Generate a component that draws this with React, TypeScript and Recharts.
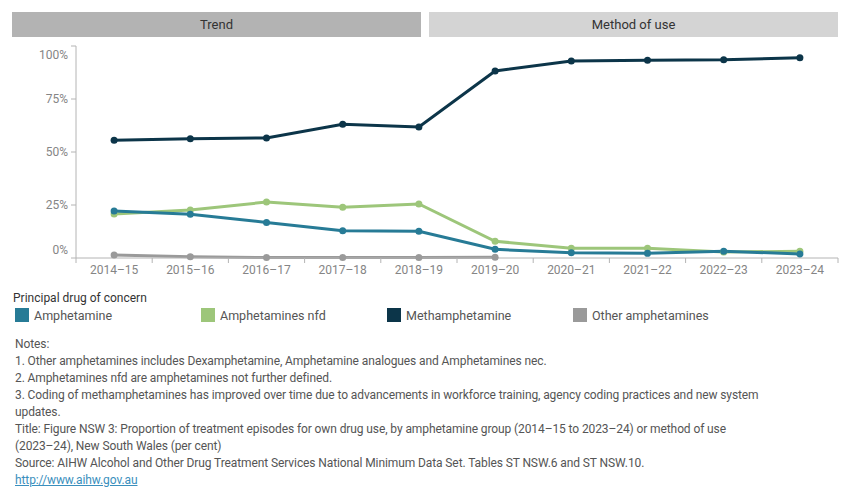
import React from 'react'
import { LineChart, Line, XAxis, YAxis } from 'recharts'

const categories = ['2014–15', '2015–16', '2016–17', '2017–18', '2018–19', '2019–20', '2020–21', '2021–22', '2022–23', '2023–24']

const amphetamine = [22.2, 20.6, 16.8, 12.9, 12.6, 4.1, 2.5, 2.2, 3.2, 1.9]
const amphetaminesNfd = [20.8, 22.6, 26.4, 23.9, 25.5, 7.9, 4.6, 4.6, 2.8, 3.2]
const methamphetamine = [55.5, 56.3, 56.6, 63.1, 61.8, 88.2, 92.9, 93.3, 93.5, 94.5]
const otherAmphetamines = [1.4, 0.6, 0.2, 0.2, 0.2, 0.3, null, null, null, null]

const yTicks = [0, 25, 50, 75, 100]

const series = [
  { key: 'amphetamine', name: 'Amphetamine', color: '#277b96', values: amphetamine },
  { key: 'nfd', name: 'Amphetamines nfd', color: '#9dc67a', values: amphetaminesNfd },
  { key: 'meth', name: 'Methamphetamine', color: '#0c3549', values: methamphetamine },
  { key: 'other', name: 'Other amphetamines', color: '#9a9a9a', values: otherAmphetamines },
]

// grey first so the coloured lines sit on top
const drawOrder = ['other', 'nfd', 'amphetamine', 'meth']

const notes = [
  'Notes:',
  '1. Other amphetamines includes Dexamphetamine, Amphetamine analogues and Amphetamines nec.',
  '2. Amphetamines nfd are amphetamines not further defined.',
  '3. Coding of methamphetamines has improved over time due to advancements in workforce training, agency coding practices and new system',
  'updates.',
  'Title: Figure NSW 3: Proportion of treatment episodes for own drug use, by amphetamine group (2014–15 to 2023–24) or method of use',
  '(2023–24), New South Wales (per cent)',
  'Source: AIHW Alcohol and Other Drug Treatment Services National Minimum Data Set. Tables ST NSW.6 and ST NSW.10.',
]

const FONT = 'Roboto, "Open Sans", sans-serif'
const AXIS = '#b4b4b4'
const TICK_TEXT = '#858585'

const CHART_W = 850
const CHART_H = 300
const LEFT = 76
const RIGHT = 12
const BAND = (CHART_W - LEFT - RIGHT) / categories.length

const data = categories.map((c, i) => {
  const row: Record<string, string | number | null> = { year: c }
  series.forEach(s => { row[s.key] = s.values[i] })
  return row
})

const XTick = (props: any) => {
  const { x, y, payload, index, visibleTicksCount } = props
  const top = y - 7
  return (
    <g>
      <line x1={x - BAND / 2} x2={x - BAND / 2} y1={top} y2={top + 5} stroke={AXIS} />
      {index === visibleTicksCount - 1 && (
        <line x1={x + BAND / 2} x2={x + BAND / 2} y1={top} y2={top + 5} stroke={AXIS} />
      )}
      <text x={x} y={y} dy={9} textAnchor="middle" fill={TICK_TEXT} fontSize={12} fontFamily={FONT}>
        {payload.value}
      </text>
    </g>
  )
}

const YTick = (props: any) => {
  const { x, y, payload } = props
  // end labels are pulled inside the axis range
  let shift = 0
  if (payload.value === 0) shift = -8
  if (payload.value === 100) shift = 9
  return (
    <text x={x} y={y + shift} dy={4} textAnchor="end" fill={TICK_TEXT} fontSize={12} fontFamily={FONT}>
      {payload.value}%
    </text>
  )
}

const headerStyle = (left: number, width: number, bg: string): React.CSSProperties => ({
  position: 'absolute',
  left,
  top: 12,
  width,
  height: 25,
  background: bg,
  color: '#333',
  fontSize: 13,
  lineHeight: '25px',
  textAlign: 'center',
})

export default function App() {
  const ordered = drawOrder.map(k => series.find(s => s.key === k)!)
  return (
    <div style={{ position: 'absolute', left: 0, top: 0, width: 850, height: 500, background: '#fff', fontFamily: FONT }}>
      <div style={headerStyle(12, 409, '#b3b3b3')}>Trend</div>
      <div style={headerStyle(429, 409, '#d4d4d4')}>Method of use</div>

      <div style={{ position: 'absolute', left: 0, top: 0 }}>
        <LineChart width={CHART_W} height={CHART_H} data={data} margin={{ top: 46, right: RIGHT, bottom: 0, left: 0 }}>
          <XAxis
            dataKey="year"
            height={CHART_H - 258}
            padding={{ left: BAND / 2, right: BAND / 2 }}
            stroke={AXIS}
            tickLine={false}
            tickSize={5}
            tickMargin={2}
            tick={<XTick />}
            interval={0}
          />
          <YAxis
            domain={[0, 100]}
            ticks={yTicks}
            width={LEFT}
            stroke={AXIS}
            tickSize={5}
            tickMargin={3}
            tick={<YTick />}
          />
          {ordered.map(s => (
            <Line
              key={s.key}
              dataKey={s.key}
              name={s.name}
              stroke={s.color}
              strokeWidth={3}
              dot={{ r: 3.5, fill: s.color, stroke: s.color, strokeWidth: 0 }}
              activeDot={false}
              isAnimationActive={false}
            />
          ))}
        </LineChart>
      </div>

      <div style={{ position: 'absolute', left: 13, top: 290, fontSize: 12, color: '#333', lineHeight: '16px' }}>
        Principal drug of concern
      </div>
      {series.map((s, i) => (
        <div key={s.key} style={{ position: 'absolute', left: 15 + i * 186, top: 308, height: 14, display: 'flex', alignItems: 'center' }}>
          <div style={{ width: 14, height: 14, background: s.color }} />
          <span style={{ marginLeft: 5, fontSize: 12.5, color: '#555' }}>{s.name}</span>
        </div>
      ))}

      <div style={{ position: 'absolute', left: 15, top: 336, fontSize: 12, color: '#555', lineHeight: '17px', whiteSpace: 'nowrap', letterSpacing: -0.1 }}>
        {notes.map((n, i) => (
          <div key={i}>{n}</div>
        ))}
        <div>
          <a href="http://www.aihw.gov.au" style={{ color: '#3a8fbd' }}>http://www.aihw.gov.au</a>
        </div>
      </div>
    </div>
  )
}
